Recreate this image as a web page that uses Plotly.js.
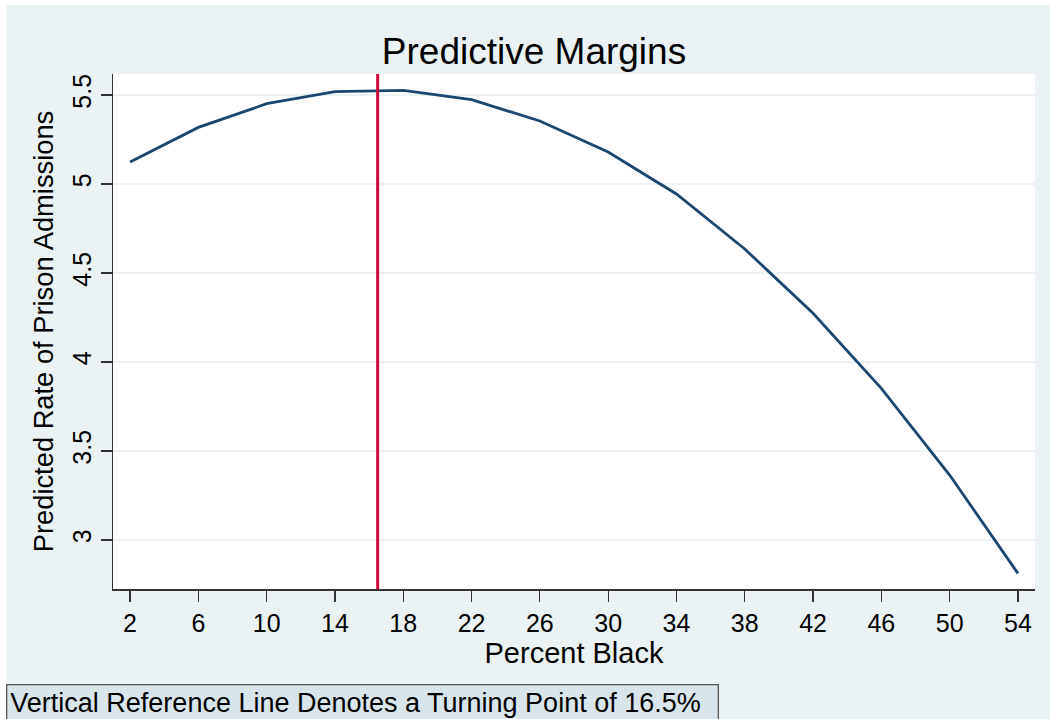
<!DOCTYPE html>
<html>
<head>
<meta charset="utf-8">
<script src="https://cdn.plot.ly/plotly-3.0.1.min.js"></script>
<style>
html,body{margin:0;padding:0;background:#ffffff;}
#chart{width:1050px;height:719px;}
</style>
</head>
<body>
<div id="chart"></div>
<script>
// Data
const percentBlack = [2, 6, 10, 14, 18, 22, 26, 30, 34, 38, 42, 46, 50, 54];
const predictedRate = [5.124, 5.318, 5.451, 5.519, 5.526, 5.474, 5.354, 5.18, 4.944, 4.635, 4.274, 3.852, 3.365, 2.813];
const xTickVals = [2, 6, 10, 14, 18, 22, 26, 30, 34, 38, 42, 46, 50, 54];
const yTickVals = [3, 3.5, 4, 4.5, 5, 5.5];
const yTickText = ["3", "3.5", "4", "4.5", "5", "5.5"];
const turningPoint = 16.5;
const noteText = "Vertical Reference Line Denotes a Turning Point of 16.5%";

const FONT = "Liberation Sans, Arial, sans-serif";
const BG = "#EAF2F3";

const trace = {
  x: percentBlack,
  y: predictedRate,
  type: "scatter",
  mode: "lines",
  line: {color: "#1a476f", width: 2.8},
  showlegend: false,
  hoverinfo: "x+y"
};

const layout = {
  width: 1050,
  height: 719,
  paper_bgcolor: "#ffffff",
  plot_bgcolor: "#ffffff",
  margin: {l: 113, r: 15, t: 74, b: 130},
  font: {family: FONT, color: "#000000"},
  title: {
    text: "Predictive Margins",
    font: {family: FONT, size: 37, color: "#000000"},
    x: 0.5086, xref: "container", xanchor: "center",
    y: 1, yref: "paper", yanchor: "bottom", pad: {b: 10}
  },
  xaxis: {
    range: [1, 55],
    tickmode: "array",
    tickvals: xTickVals,
    ticks: "outside",
    ticklen: 11,
    tickwidth: 1.3,
    tickcolor: "#333333",
    showline: true,
    linecolor: "#333333",
    linewidth: 1.5,
    showgrid: false,
    zeroline: false,
    tickfont: {family: FONT, size: 25, color: "#000000"},
    title: {text: "Percent Black", font: {family: FONT, size: 29, color: "#000000"}, standoff: 7}
  },
  yaxis: {
    range: [2.725, 5.618],
    tickmode: "array",
    tickvals: yTickVals,
    ticktext: yTickText,
    tickangle: -90,
    ticks: "outside",
    ticklen: 11,
    tickwidth: 1.3,
    tickcolor: "#333333",
    showline: true,
    linecolor: "#333333",
    linewidth: 1.5,
    showgrid: true,
    gridcolor: BG,
    gridwidth: 2,
    zeroline: false,
    tickfont: {family: FONT, size: 25, color: "#000000"},
    title: {text: "Predicted Rate of Prison Admissions", font: {family: FONT, size: 27.3, color: "#000000"}, standoff: 6}
  },
  shapes: [
    // graph-region background (leaves thin white strip at top and left edges)
    {type: "rect", xref: "paper", yref: "paper", x0: -0.1161, x1: 1.05, y0: -0.3, y1: 1.134,
     line: {width: 0}, fillcolor: BG, layer: "below"},
    // white plot region
    {type: "rect", xref: "paper", yref: "paper", x0: 0, x1: 1, y0: 0, y1: 1,
     line: {width: 0}, fillcolor: "#ffffff", layer: "below"},
    {
      type: "line", xref: "x", yref: "paper",
      x0: turningPoint, x1: turningPoint, y0: 0, y1: 1,
      line: {color: "#cc0a3c", width: 3}
    }
  ],
  annotations: [
    {
      text: noteText,
      xref: "paper", yref: "paper",
      x: -0.1161, y: -0.1845,
      xanchor: "left", yanchor: "top",
      showarrow: false,
      align: "left",
      width: 704,
      height: 42,
      valign: "top",
      font: {family: FONT, size: 27, color: "#000000"},
      bgcolor: "#D8E5EB",
      bordercolor: "#555555",
      borderwidth: 1.3,
      borderpad: 3
    }
  ]
};

Plotly.newPlot("chart", [trace], layout, {displayModeBar: false, staticPlot: true});
</script>
</body>
</html>
